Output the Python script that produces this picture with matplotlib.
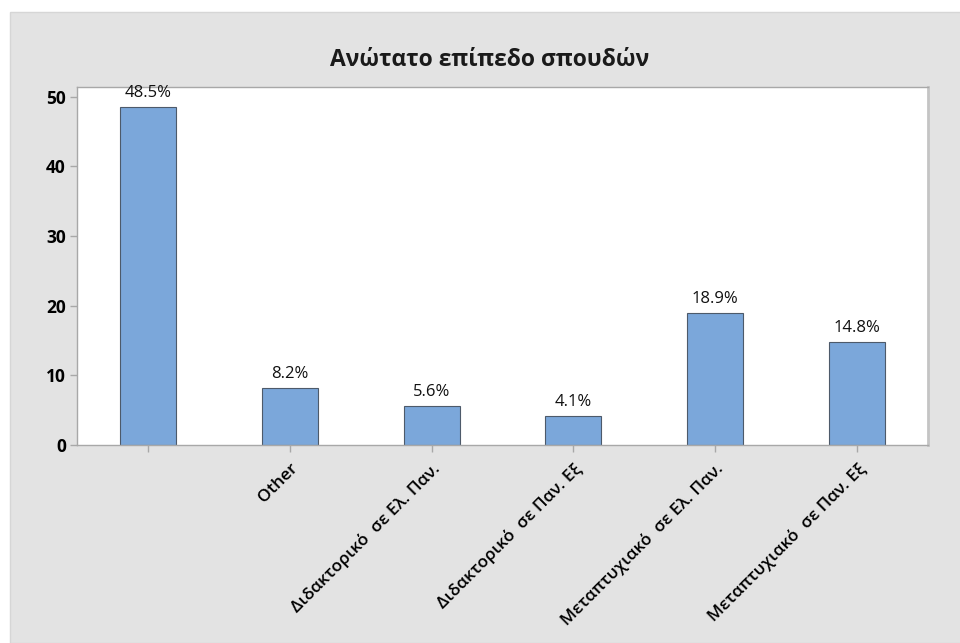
import matplotlib.pyplot as plt
from matplotlib.patches import Rectangle

# data
categories = ['', 'Other', 'Διδακτορικό  σε Ελ. Παν.', 'Διδακτορικό  σε Παν. Εξ',
              'Μεταπτυχιακό  σε Ελ. Παν.', 'Μεταπτυχιακό  σε Παν. Εξ']
percents = [48.5, 8.2, 5.6, 4.1, 18.9, 14.8]
yticks = [0, 10, 20, 30, 40, 50]

plt.rcParams['font.family'] = ['Open Sans', 'DejaVu Sans']

fig = plt.figure(figsize=(9.6, 6.43), dpi=100)
fig.patch.set_facecolor('white')
# gray panel behind the chart
fig.patches.append(Rectangle((10 / 960, 0), 1, 631 / 643, transform=fig.transFigure,
                             facecolor='#e3e3e3', edgecolor='#d6d6d6', lw=1, zorder=-10))

ax = fig.add_axes([77 / 960, 198 / 643, 851 / 960, 358 / 643])
ax.set_zorder(5)
ax.set_facecolor('white')

x = list(range(len(categories)))
ax.bar(x, percents, width=0.395, color='#7ba7da', edgecolor='#4d5a6a', linewidth=0.8, zorder=2)
for xi, v in zip(x, percents):
    ax.annotate(f'{v}%', (xi, v), xytext=(0, 4.5), textcoords='offset points',
                ha='center', va='bottom', fontsize=12, color='#111111')

ax.set_xlim(-0.5, 5.5)
ax.set_ylim(0, 51.4)
ax.set_yticks(yticks)
ax.set_yticklabels([str(t) for t in yticks], fontsize=12.5, fontweight='bold')
ax.set_xticks(x)
ax.set_xticklabels(categories, rotation=45, ha='right', rotation_mode='anchor',
                   fontsize=12.3, fontweight='semibold')

for s in ax.spines.values():
    s.set_color('#a8a8a8')
    s.set_linewidth(1)
ax.spines['right'].set_linewidth(2)
ax.spines['right'].set_color('#c4c4c4')
ax.tick_params(axis='both', color='#a8a8a8', length=5, width=1, pad=3)
ax.tick_params(axis='x', pad=6)

fig.text(490 / 960, 1 - 66 / 643, 'Ανώτατο επίπεδο σπουδών', ha='center', va='baseline',
         fontsize=16.5, fontweight='bold', color='#1a1a1a')

fig.savefig('out.png', dpi=100)
